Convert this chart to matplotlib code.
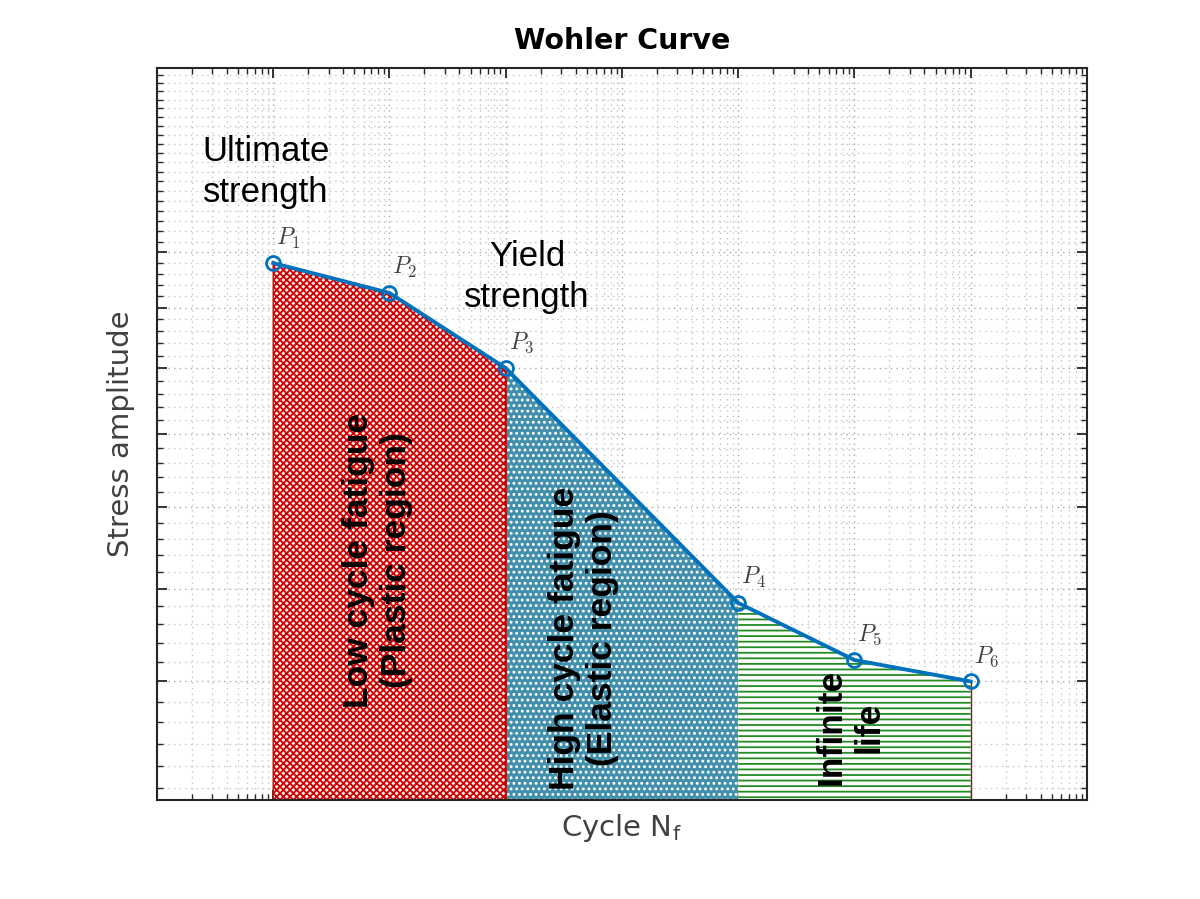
import numpy as np
import matplotlib
matplotlib.use("Agg")
import matplotlib.pyplot as plt
from matplotlib.ticker import FixedLocator, LogLocator, NullFormatter

plt.rcParams['mathtext.fontset'] = 'cm'
plt.rcParams['hatch.linewidth'] = 1.3

# S-N points (cycles, stress amplitude)
cycles = [1e1, 1e2, 1e3, 1e5, 1e6, 1e7]
stress = [64.0, 61.3, 55.0, 39.2, 36.1, 35.0]
point_names = ['$P_1$', '$P_2$', '$P_3$', '$P_4$', '$P_5$', '$P_6$']

y_lo, y_hi = 29.5, 84.8
x_lo, x_hi = 1e0, 1e8
y_major = [35, 40, 45, 50, 55, 60, 65]
y_minor = [v for v in range(30, 85) if v not in y_major]

blue = '#0072BD'

fig = plt.figure(figsize=(12, 8.99), dpi=100)
ax = fig.add_axes([0.1308, 0.1101, 0.775, 0.8143])
ax.set_xscale('log')
ax.set_yscale('log')
ax.set_xlim(x_lo, x_hi)
ax.set_ylim(y_lo, y_hi)

cx = np.array(cycles)
sy = np.array(stress)

# low cycle (P1..P3)
ax.fill_between(cx[0:3], sy[0:3], y_lo * 0.5, facecolor='#fbeaea',
                edgecolor='#d00000', hatch='xxxxx', linewidth=1.0, zorder=2)
# high cycle (P3..P4)
ax.fill_between(cx[2:4], sy[2:4], y_lo * 0.5, facecolor='#428fac',
                edgecolor='white', hatch='...', linewidth=0, zorder=2)
# infinite life (P4..P6)
ax.fill_between(cx[3:6], sy[3:6], y_lo * 0.5, facecolor='white',
                edgecolor='#228b22', hatch='---', linewidth=0, zorder=2)
ax.vlines([cx[2]], y_lo, sy[2], color='#c00000', lw=1.2, zorder=2.5)
ax.vlines([cx[5]], y_lo, sy[5], color='#8b1a1a', lw=1.0, zorder=2.5)

ax.plot(cx, sy, '-o', color=blue, lw=2.8, ms=10, mfc='none', mec=blue,
        mew=2.0, zorder=4)

for x, y, name in zip(cycles, stress, point_names):
    ax.annotate(name, (x, y), xytext=(11, 18), textcoords='offset points',
                ha='center', va='center', fontsize=17, color='#404040')

txt = dict(family='Liberation Sans', color='black')
ax.text(0.049, 0.858, 'Ultimate\nstrength', transform=ax.transAxes,
        fontsize=25, ha='left', va='center', linespacing=1.3, **txt)
ax.text(0.398, 0.714, 'Yield\nstrength', transform=ax.transAxes,
        fontsize=25, ha='center', va='center', linespacing=1.3, **txt)
ax.text(0.237, 0.328, 'Low cycle fatigue\n(Plastic region)',
        transform=ax.transAxes, rotation=90, fontsize=25.5, weight='bold',
        ha='center', va='center', linespacing=1.2, **txt)
ax.text(0.459, 0.221, 'High cycle fatigue\n(Elastic region)',
        transform=ax.transAxes, rotation=90, fontsize=25.5, weight='bold',
        ha='center', va='center', linespacing=1.2, **txt)
ax.text(0.745, 0.1, 'Infinite\nlife', transform=ax.transAxes, rotation=90,
        fontsize=25.5, weight='bold', ha='center', va='center',
        linespacing=1.2, **txt)

ax.xaxis.set_major_locator(LogLocator(base=10, numticks=20))
ax.xaxis.set_minor_locator(LogLocator(base=10, subs=np.arange(2, 10), numticks=20))
ax.yaxis.set_major_locator(FixedLocator(y_major))
ax.yaxis.set_minor_locator(FixedLocator(y_minor))
ax.xaxis.set_major_formatter(NullFormatter())
ax.xaxis.set_minor_formatter(NullFormatter())
ax.yaxis.set_major_formatter(NullFormatter())
ax.yaxis.set_minor_formatter(NullFormatter())

ax.tick_params(which='both', direction='in', top=True, right=True,
               colors='#262626')
ax.tick_params(which='major', length=7, width=1.3)
ax.tick_params(which='minor', length=4, width=1.0)
for s in ax.spines.values():
    s.set_color('#262626')
    s.set_linewidth(1.5)

ax.set_axisbelow(True)
ax.grid(which='major', linestyle=(0, (1, 3)), color='#a8a8a8', linewidth=1.0)
ax.grid(which='minor', linestyle=(0, (1, 3)), color='#c4c4c4', linewidth=1.0)

ax.set_title('Wohler Curve', fontsize=20.5, weight='bold', pad=14)
ax.set_xlabel('Cycle N$_\\mathregular{f}$', fontsize=21, color='#404040',
              labelpad=5)
ax.set_ylabel('Stress amplitude', fontsize=21, color='#404040', labelpad=12)

fig.savefig('out.png', dpi=100)
